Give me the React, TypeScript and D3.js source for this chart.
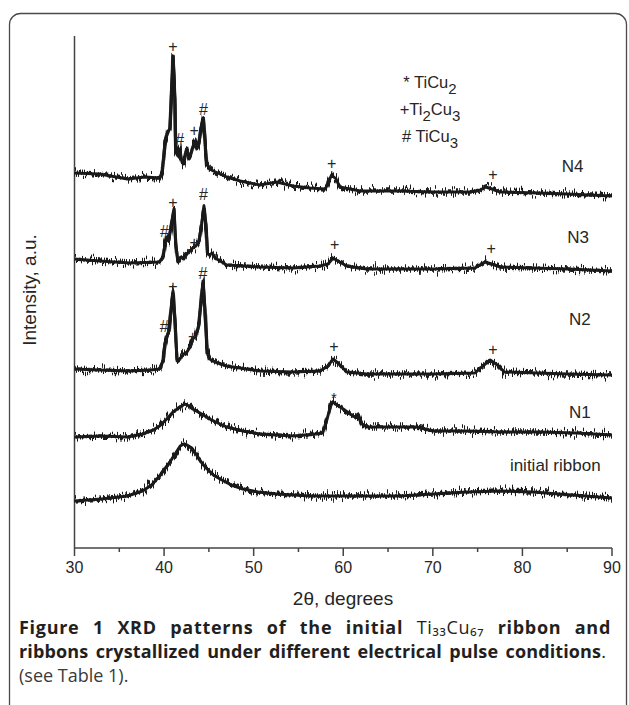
import React, { useLayoutEffect, useRef } from "react";
import * as d3 from "d3";

// 2θ (degrees), intensity (a.u.)
const initialRibbon: [number, number][] = [
  [30, 47], [33, 49], [35.9, 52], [37.6, 57], [38.6, 63], [39.5, 72], [40.65, 86], [41.3, 95],
  [41.8, 102], [42.2, 104], [42.55, 103], [43.1, 100], [43.7, 92], [44.3, 84], [44.8, 79],
  [45.5, 73], [46.25, 69], [47.5, 63], [48.8, 59], [50.5, 56], [52.6, 54], [56.3, 52],
  [61.9, 52], [66.3, 52], [70, 54], [73.8, 56], [77.5, 57], [81.2, 56], [85.5, 53], [90, 50],
];

const n1: [number, number][] = [
  [30, 111], [33, 112], [35.9, 111], [37.6, 114], [38.8, 118], [39.5, 122], [40.3, 129],
  [41.0, 136], [41.8, 141], [42.3, 144], [42.8, 142], [43.2, 139], [44.2, 134], [45.1, 129],
  [46.0, 125], [47.0, 121], [48.8, 117], [50.7, 114], [54.4, 112], [57.0, 114], [57.7, 115],
  [58.2, 129], [58.6, 143], [58.85, 146], [59.3, 143], [60.0, 139], [60.75, 134], [61.3, 131],
  [61.65, 134], [62.1, 124], [62.6, 121], [65.0, 121], [68.2, 121], [70.0, 117], [74.0, 117],
  [77.5, 116], [82.0, 116], [86.0, 115], [90, 113],
];

const n2: [number, number][] = [
  [30, 179], [32.8, 178], [36.2, 177], [38.5, 178], [39.5, 179], [39.9, 187], [40.1, 204],
  [40.3, 211], [40.55, 217], [40.75, 237], [41.0, 257], [41.2, 229], [41.45, 187], [41.75, 189],
  [42.2, 194], [42.55, 196], [42.9, 201], [43.2, 209], [43.55, 212], [43.9, 224], [44.15, 249],
  [44.35, 267], [44.55, 239], [44.8, 199], [45.1, 189], [45.7, 186], [47.0, 182], [50.7, 177],
  [54.4, 176], [57.4, 177], [58.3, 182], [58.85, 189], [59.4, 185], [60.4, 176], [62.6, 174],
  [70.0, 174], [74.7, 175], [75.7, 183], [76.4, 188], [77.2, 183], [78.0, 176], [85.0, 174],
  [90, 173],
];

const n3: [number, number][] = [
  [30, 289], [32.8, 287], [36.2, 285], [39.5, 286], [39.9, 291], [40.1, 304], [40.3, 311],
  [40.5, 307], [40.65, 314], [40.9, 327], [41.1, 339], [41.3, 304], [41.55, 286], [41.9, 291],
  [42.2, 289], [42.55, 294], [42.9, 297], [43.2, 300], [43.55, 302], [43.9, 307], [44.2, 324],
  [44.45, 342], [44.7, 319], [44.85, 294], [45.1, 293], [45.35, 295], [45.7, 290], [47.0, 283],
  [50.7, 281], [54.4, 280], [57.4, 282], [58.3, 284], [58.85, 290], [59.4, 287], [60.4, 282],
  [62.6, 279], [70.0, 279], [74.7, 280], [75.8, 286], [76.6, 284], [77.5, 281], [85.0, 279],
  [90, 277],
];

const n4: [number, number][] = [
  [30, 375], [32.8, 374], [35.9, 369], [37.9, 371], [39.5, 370], [39.8, 376], [40.1, 406],
  [40.45, 417], [40.65, 419], [40.85, 459], [41.0, 492], [41.2, 449], [41.3, 396], [41.55, 392],
  [41.75, 399], [42.0, 386], [42.2, 384], [42.5, 399], [42.8, 389], [43.0, 394], [43.25, 402],
  [43.45, 407], [43.65, 399], [43.9, 404], [44.1, 419], [44.4, 430], [44.55, 409], [44.75, 384],
  [45.1, 379], [45.5, 377], [47.0, 371], [48.5, 367], [50.7, 363], [52.6, 366], [54.4, 362],
  [56.3, 360], [58.0, 359], [58.7, 373], [59.2, 369], [59.6, 361], [61.9, 357], [66.3, 357],
  [70.0, 356], [74.1, 356], [75.3, 358], [75.9, 361], [76.6, 359], [77.5, 356], [81.9, 355],
  [85.0, 354], [90, 352],
];

const traces = [initialRibbon, n1, n2, n3, n4];

// phase markers: symbol, 2θ, intensity position
const peakMarks: [string, number, number][] = [
  ["+", 41.0, 502], ["#", 41.75, 409], ["+", 43.35, 418], ["#", 44.4, 439], ["+", 58.7, 385], ["+", 76.7, 374],
  ["#", 40.05, 317], ["+", 41.0, 346], ["+", 43.35, 306], ["#", 44.4, 354], ["+", 59.05, 304], ["+", 76.5, 300],
  ["#", 40.0, 222], ["+", 41.0, 262], ["+", 43.2, 212], ["#", 44.35, 275], ["+", 58.95, 202], ["+", 76.7, 199],
  ["*", 58.95, 154],
];

const sampleNames = ["N4", "N3", "N2", "N1", "initial ribbon"];
const sampleLabelPos: [number, number][] = [
  [84.4, 382], [85.0, 311], [85.2, 229], [85.2, 136], [78.6, 83],
];

const xTicks = [30, 40, 50, 60, 70, 80, 90];
const xMinorTicks = [35, 45, 55, 65, 75, 85];

const legendPhases: [string, string, string, string, string][] = [
  // prefix, element1, sub1, element2, sub2
  ["* ", "TiCu", "2", "", ""],
  ["+", "Ti", "2", "Cu", "3"],
  ["# ", "TiCu", "3", "", ""],
];

const W = 629;
const H = 705;

export default function App() {
  const cap1 = useRef<SVGTextElement>(null);
  const cap2 = useRef<SVGTextElement>(null);

  useLayoutEffect(() => {
    const jobs: [SVGTextElement | null, number, number][] = [
      [cap1.current, 592, 9],
      [cap2.current, 587, 6],
    ];
    jobs.forEach(([el, target, spaces]) => {
      if (!el) return;
      el.setAttribute("word-spacing", "0");
      el.setAttribute("letter-spacing", "0");
      const w = el.getComputedTextLength();
      const chars = (el.textContent || "").length;
      const extra = target - w;
      const ls = extra > 0 ? (extra * 0.35) / chars : 0;
      const ws = (extra - ls * chars) / spaces;
      el.setAttribute("letter-spacing", String(ls));
      el.setAttribute("word-spacing", String(ws));
    });
  }, []);

  const x = d3.scaleLinear().domain([30, 90]).range([74.5, 612]);
  const y = d3.scaleLinear().domain([0, 512]).range([548, 36]);
  const line = d3
    .line<[number, number]>()
    .x((d) => x(d[0]))
    .y((d) => y(d[1]));

  const axisFont = "'Liberation Sans', Arial, sans-serif";
  const capFont = "'Open Sans', 'Noto Sans', 'DejaVu Sans', sans-serif";
  const ink = "#1a1a1a";
  const textCol = "#262626";

  return (
    <svg
      width={W}
      height={H}
      viewBox={`0 0 ${W} ${H}`}
      style={{ position: "absolute", left: 0, top: 0, display: "block", background: "#fff" }}
    >
      <defs>
        <filter
          id="grain"
          filterUnits="userSpaceOnUse"
          x={0}
          y={0}
          width={W}
          height={H}
          colorInterpolationFilters="sRGB"
        >
          <feTurbulence type="fractalNoise" baseFrequency="0.9 0.03" numOctaves={2} seed={7} result="t" />
          <feColorMatrix
            in="t"
            type="matrix"
            values="0 0 0 0 0.5  0 1 0 0 0  0 0 0 0 0  0 0 0 0 1"
            result="m"
          />
          <feDisplacementMap in="SourceGraphic" in2="m" scale={17} xChannelSelector="R" yChannelSelector="G" />
        </filter>
      </defs>

      {/* frame */}
      <rect x={9.5} y={13.5} width={617} height={740} rx={11} fill="none" stroke="#4a4a4a" strokeWidth={1.3} />

      {/* axes */}
      <line x1={x(30)} x2={x(30)} y1={y(512)} y2={y(0)} stroke="#444" strokeWidth={1.5} />
      <line x1={x(30)} x2={x(90)} y1={y(0)} y2={y(0)} stroke="#444" strokeWidth={1.5} />
      {xTicks.map((t) => (
        <g key={"t" + t}>
          <line x1={x(t)} x2={x(t)} y1={y(0)} y2={y(0) + 8} stroke="#444" strokeWidth={1.5} />
          <text
            x={x(t)}
            y={y(0) + 25}
            textAnchor="middle"
            fontFamily={axisFont}
            fontSize={16}
            fill={textCol}
          >
            {t}
          </text>
        </g>
      ))}
      {xMinorTicks.map((t) => (
        <line key={"m" + t} x1={x(t)} x2={x(t)} y1={y(0)} y2={y(0) + 4} stroke="#444" strokeWidth={1.5} />
      ))}
      <text x={343} y={605} textAnchor="middle" fontFamily={axisFont} fontSize={19} fill={textCol}>
        2θ, degrees
      </text>
      <text
        transform="translate(36,290) rotate(-90)"
        textAnchor="middle"
        fontFamily={axisFont}
        fontSize={19}
        fill={textCol}
      >
        Intensity, a.u.
      </text>

      {/* traces: solid core plus a grainy overlay */}
      <g>
        {traces.map((tr, i) => (
          <path key={"c" + i} d={line(tr) || ""} fill="none" stroke={ink} strokeWidth={3} strokeLinejoin="round" />
        ))}
      </g>
      <g filter="url(#grain)">
        {traces.map((tr, i) => (
          <path key={"g" + i} d={line(tr) || ""} fill="none" stroke={ink} strokeWidth={3.4} strokeLinejoin="round" />
        ))}
      </g>

      {/* peak markers */}
      {peakMarks.map(([s, t, v], i) => (
        <text
          key={"p" + i}
          x={x(t)}
          y={y(v)}
          dy={s === "*" ? "0.58em" : "0.36em"}
          textAnchor="middle"
          fontFamily={axisFont}
          fontSize={s === "*" ? 15 : 16}
          fill={textCol}
        >
          {s}
        </text>
      ))}

      {/* sample labels */}
      {sampleNames.map((n, i) => (
        <text
          key={n}
          x={x(sampleLabelPos[i][0])}
          y={y(sampleLabelPos[i][1])}
          dy="0.36em"
          fontFamily={axisFont}
          fontSize={17}
          fill={textCol}
        >
          {n}
        </text>
      ))}

      {/* legend */}
      {legendPhases.map((p, i) => (
        <text
          key={"l" + i}
          x={430}
          y={88 + i * 27}
          textAnchor="middle"
          fontFamily={axisFont}
          fontSize={16.5}
          fill={textCol}
        >
          <tspan>{p[0] + p[1]}</tspan>
          <tspan dy={6} fontSize={15}>{p[2]}</tspan>
          {p[3] ? <tspan dy={-6}>{p[3]}</tspan> : null}
          {p[4] ? <tspan dy={6} fontSize={15}>{p[4]}</tspan> : null}
        </text>
      ))}

      {/* caption */}
      <text ref={cap1} x={19} y={634} fontFamily={capFont} fontSize={18} fill="#231f20">
        <tspan fontWeight={700}>{"Figure 1 XRD patterns of the initial "}</tspan>
        <tspan>{"Ti₃₃Cu₆₇"}</tspan>
        <tspan fontWeight={700}>{" ribbon and"}</tspan>
      </text>
      <text ref={cap2} x={19} y={658} fontFamily={capFont} fontSize={18} fill="#231f20">
        <tspan fontWeight={700}>{"ribbons crystallized under different electrical pulse conditions"}</tspan>
        <tspan>{"."}</tspan>
      </text>
      <text x={19} y={682} fontFamily={capFont} fontSize={18} fill="#3a3a3a">
        (see Table 1).
      </text>
    </svg>
  );
}
